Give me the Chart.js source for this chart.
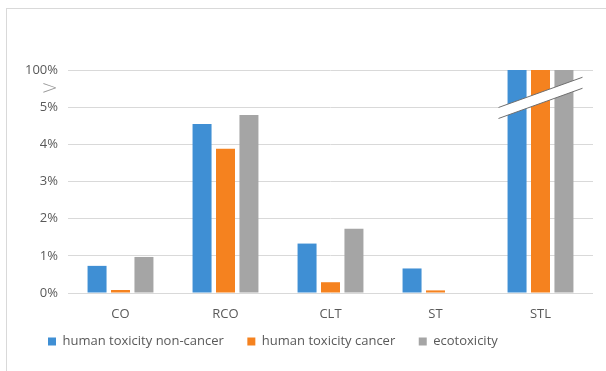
<!DOCTYPE html>
<html><head><meta charset="utf-8">
<script src="https://cdn.jsdelivr.net/npm/chart.js@4.4.0/dist/chart.umd.min.js"></script>
<style>
html,body{margin:0;padding:0;background:#fff;overflow:hidden;width:606px;height:371px;}
#frame{position:absolute;left:6px;top:8px;width:640px;height:420px;border:1px solid #d9d9d9;box-sizing:border-box;}
#wrap{position:absolute;left:0;top:0;width:606px;height:371px;}
</style></head><body>
<div id="frame"></div>
<div id="wrap"><canvas id="c" width="606" height="371"></canvas></div>
<script>
const categories = ['CO', 'RCO', 'CLT', 'ST', 'STL'];
const seriesNames = ['human toxicity non-cancer', 'human toxicity cancer', 'ecotoxicity'];
const nonCancer = [0.73, 4.55, 1.33, 0.66, 100];
const cancer = [0.08, 3.88, 0.29, 0.07, 100];
const ecotoxicity = [0.97, 4.79, 1.73, 0, 100];
const tickValues = [0, 1, 2, 3, 4, 5, 5.5, 6];
const tickLabels = ['0%', '1%', '2%', '3%', '4%', '5%', '>', '100%'];
const colors = ['#3F8FD4', '#F5821F', '#A5A5A5'];

// broken axis: 0..5% linear, anything above 5% drawn at the "100%" position (6)
const toAxis = v => (v <= 5 ? v : 6);
const BREAK_POS = 5.5;
const FONT = 'Open Sans';
const FONT_SIZE = 13;
const LEGEND_PAD = 10;
const LEGEND_START = 48;

const breakPlugin = {
  id: 'axisBreak',
  afterLayout(chart) {
    const lg = chart.legend;
    if (lg) { lg.left = LEGEND_START - LEGEND_PAD; }
  },
  afterDatasetsDraw(chart) {
    const xs = chart.scales.x, ys = chart.scales.y, ctx = chart.ctx;
    const cx = xs.getPixelForValue(categories.length - 1);
    const cy = ys.getPixelForValue(5.25);
    const half = 42, slope = -0.36, gap = 11;
    const yl = cy - slope * half, yr = cy + slope * half;
    ctx.save();
    ctx.fillStyle = '#ffffff';
    ctx.beginPath();
    ctx.moveTo(cx - half, yl - gap / 2);
    ctx.lineTo(cx + half, yr - gap / 2);
    ctx.lineTo(cx + half, yr + gap / 2);
    ctx.lineTo(cx - half, yl + gap / 2);
    ctx.closePath();
    ctx.fill();
    ctx.strokeStyle = '#6f6f6f';
    ctx.lineWidth = 1;
    ctx.beginPath();
    ctx.moveTo(cx - half, yl - gap / 2);
    ctx.lineTo(cx + half, yr - gap / 2);
    ctx.moveTo(cx - half, yl + gap / 2);
    ctx.lineTo(cx + half, yr + gap / 2);
    ctx.stroke();
    ctx.restore();
  }
};

const seriesValues = [nonCancer, cancer, ecotoxicity];
new Chart(document.getElementById('c'), {
  type: 'bar',
  data: {
    labels: categories,
    datasets: seriesNames.map((n, i) => ({
      label: n,
      data: seriesValues[i].map(toAxis),
      backgroundColor: colors[i],
      borderWidth: 0,
      categoryPercentage: 0.67,
      barPercentage: 0.81
    }))
  },
  options: {
    responsive: false,
    animation: false,
    layout: { padding: { left: 23, right: 13, top: 70, bottom: 13 } },
    plugins: {
      tooltip: { enabled: false },
      legend: {
        position: 'bottom',
        align: 'start',
        labels: {
          boxWidth: 8, boxHeight: 8, padding: LEGEND_PAD,
          color: '#595959',
          font: { family: FONT, size: FONT_SIZE },
          generateLabels(chart) {
            const items = Chart.defaults.plugins.legend.labels.generateLabels(chart);
            items.forEach((it, i) => { if (i < items.length - 1) it.text = it.text + '    '; });
            return items;
          }
        }
      }
    },
    scales: {
      x: {
        grid: { display: false, drawTicks: false },
        border: { display: false },
        ticks: { color: '#595959', font: { family: FONT, size: FONT_SIZE }, padding: 13 },
        afterFit(s) { s.height = 32; }
      },
      y: {
        min: 0, max: 6,
        afterBuildTicks(s) { s.ticks = tickValues.map(v => ({ value: v })); },
        afterFit(s) { s.width = 45; },
        border: { display: false },
        grid: {
          drawTicks: false,
          color: c => (c.tick && c.tick.value === BREAK_POS ? 'rgba(0,0,0,0)' : '#D9D9D9'),
          lineWidth: 1
        },
        ticks: {
          padding: 10,
          autoSkip: false,
          callback: (v) => tickLabels[tickValues.indexOf(v)],
          color: c => (c.tick && c.tick.value === BREAK_POS ? '#9a9a9a' : '#595959'),
          font: c => (c.tick && c.tick.value === BREAK_POS ? { family: 'DejaVu Sans', size: 20, weight: '200' } : { family: FONT, size: FONT_SIZE })
        }
      }
    }
  },
  plugins: [breakPlugin]
});
</script>
</body></html>
